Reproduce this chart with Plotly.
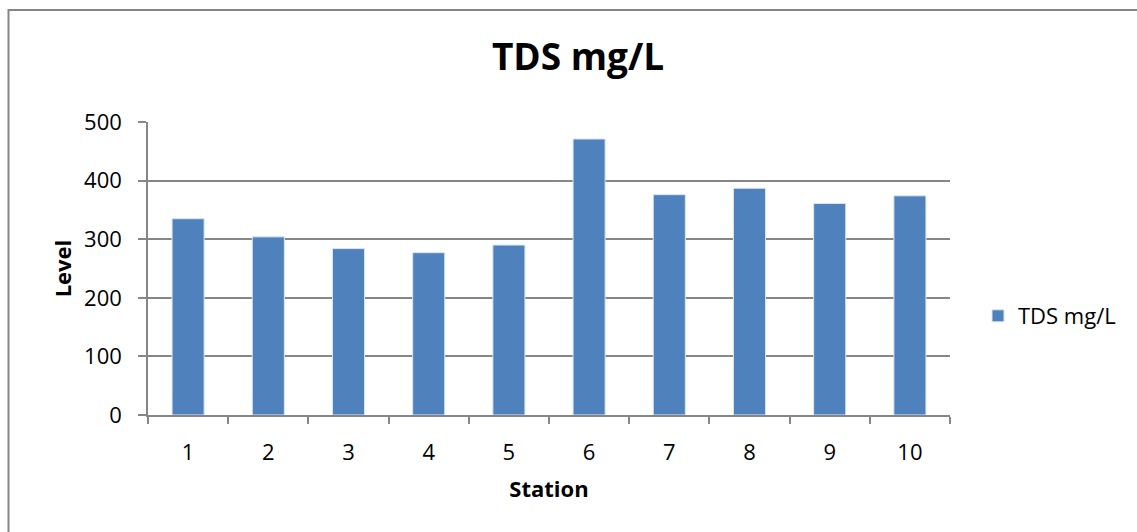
import plotly.graph_objects as go

stations = ["1", "2", "3", "4", "5", "6", "7", "8", "9", "10"]
tds_values = [335, 304, 284, 277, 290, 471, 376, 387, 361, 374]
y_ticks = [0, 100, 200, 300, 400, 500]

W, H = 1137, 532
L, R, T, B = 148, 950, 122, 415
pw, ph = R - L, B - T

def px(x):
    return (x - L) / pw

def py(y):
    return (B - y) / ph

font_main = "Open Sans, Calibri, Carlito, sans-serif"
axis_grey = "#868686"

fig = go.Figure()
fig.add_trace(go.Bar(
    x=stations, y=tds_values, name="TDS mg/L",
    marker=dict(color="#4F81BD", line=dict(color="#DCE6F2", width=1)),
    showlegend=True,
))

fig.update_layout(
    width=W, height=H,
    margin=dict(l=L, r=W - R, t=T, b=H - B),
    paper_bgcolor="white", plot_bgcolor="white",
    font=dict(family=font_main, size=22, color="black"),
    title=dict(text="<b>TDS mg/L</b>", x=578 / W, xanchor="center",
               y=1 - 57 / H, yanchor="middle",
               font=dict(family=font_main, size=37, color="black")),
    bargap=0.6,
    showlegend=True,
    legend=dict(x=px(978), y=py(316), xanchor="left", yanchor="middle",
                font=dict(family=font_main, size=22, color="black"),
                itemwidth=30, bgcolor="rgba(0,0,0,0)"),
    xaxis=dict(
        type="category", showgrid=False, showline=True, linecolor=axis_grey,
        linewidth=1.5, ticks="outside", tickson="boundaries", ticklen=7,
        tickcolor=axis_grey, tickwidth=1.5, ticklabelstandoff=17,
        tickfont=dict(family=font_main, size=22, color="black"),
        title=dict(text="<b>Station</b>", standoff=16,
                   font=dict(family=font_main, size=22, color="black")),
    ),
    yaxis=dict(
        range=[0, 500], tickvals=y_ticks, showgrid=True, gridcolor=axis_grey,
        gridwidth=1.5, showline=True, linecolor=axis_grey, linewidth=1.5,
        ticks="outside", ticklen=8, tickcolor=axis_grey, tickwidth=1.5,
        zeroline=False, ticklabelstandoff=12,
        tickfont=dict(family=font_main, size=22, color="black"),
        title=dict(text="<b>Level</b>", standoff=6,
                   font=dict(family=font_main, size=22, color="black")),
    ),
)

# outer chart border
fig.add_shape(type="rect", xref="paper", yref="paper",
              x0=px(8.5), x1=px(1145), y0=py(545), y1=py(10),
              line=dict(color=axis_grey, width=2), fillcolor="rgba(0,0,0,0)",
              layer="below")

fig.write_html("out.html")
